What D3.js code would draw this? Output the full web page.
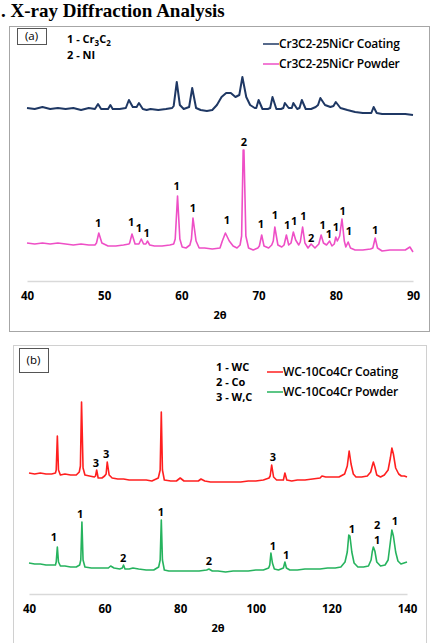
<!DOCTYPE html>
<html>
<head>
<meta charset="utf-8">
<script src="https://cdn.jsdelivr.net/npm/d3@7"></script>
<style>
  body { margin: 0; background: #fff; }
  svg { display: block; }
  .tick text { font-family: "Open Sans", sans-serif; font-weight: 700; font-size: 11.5px; fill: #000; }
</style>
</head>
<body>
<div id="chart"></div>
<script>
// panel (a): [2theta, intensity a.u.]
const coatingA = [
  [40,173],[41,172],[42,174],[43,172],[44,173],[45,172],[46,173],[47,171],[48,173],[48.8,172],
  [49.2,177],[49.6,172],[50.5,172],[50.8,176],[51.1,172],[52,172],[52.8,173],[53.2,181],[53.7,174],
  [54.2,174],[54.5,178],[55,172],[55.5,171],[56,172],[57,171],[58,172],[58.8,173],[59,175],[59.4,199],
  [59.8,176],[60.3,172],[61,174],[61.4,193],[61.9,173],[62.5,171],[63.3,170],[64,171],[64.6,176],
  [65.2,184],[65.8,188],[66.4,188],[67,184],[67.5,186],[67.9,204],[68.4,184],[68.9,176],[69.5,173],
  [69.7,173],[70,181],[70.5,172],[71.2,172],[71.5,173],[71.8,184],[72.3,172],[72.9,172],[73.2,173],
  [73.4,178],[73.9,173],[74.3,173],[74.5,178],[75,172],[75.3,173],[75.6,181],[76.1,172],[76.8,172],
  [77.4,174],[77.7,176],[78,183],[78.6,176],[79.3,174],[79.7,175],[80,179],[80.6,173],[81.5,171],
  [82.5,169],[83.5,168],[84.4,168],[84.6,168],[84.9,174],[85.3,168],[86,167],[87,167],[88,167],
  [89,167],[90,166]
];
const powderA = [
  [40,38],[41,37],[42,38],[43,37],[44,38],[45,37],[46,36],[47,37],[48,36],[48.8,36],[49,38],[49.3,48],
  [49.7,38],[50.5,35],[51.5,35],[52.5,36],[53.2,37],[53.3,38],[53.6,47],[54,37],[54.5,37],[54.8,42],
  [55.1,37],[55.4,37],[55.6,40],[55.9,36],[56.5,35],[57.5,35],[58.5,36],[59,37],[59.2,42],[59.5,85],
  [59.8,42],[60.1,34],[60.6,33],[61.1,36],[61.3,42],[61.5,63],[61.9,40],[62.3,33],[63,33],[64,32],
  [65,33],[65.3,40],[65.7,48],[66.2,40],[66.7,35],[67.2,33],[67.6,36],[67.8,45],[68,131],[68.1,131],
  [68.35,45],[68.7,33],[69.3,31],[69.9,33],[70.1,35],[70.4,46],[70.7,35],[71.3,33],[71.7,36],[71.9,40],
  [72.1,54],[72.5,36],[73,34],[73.3,36],[73.6,46],[73.9,36],[74.2,38],[74.5,49],[74.8,41],[75.2,36],
  [75.4,39],[75.7,54],[76,38],[76.4,33],[76.8,37],[77.3,33],[77.8,37],[78.1,46],[78.4,38],[78.8,36],
  [79.2,40],[79.5,35],[79.8,37],[80,44],[80.2,40],[80.5,45],[80.8,62],[81.1,40],[81.3,34],[81.6,39],
  [81.9,33],[82.5,31],[83.5,31],[84.5,32],[84.8,33],[85.1,43],[85.4,33],[86,30],[87,31],[88,31],
  [89,31],[89.6,34],[90,29]
];
const labelsA = [
  [49.2,58,"1"],[53.5,59,"1"],[54.5,53,"1"],[55.5,48,"1"],[59.4,95,"1"],[61.5,73,"1"],[65.9,61,"1"],
  [68.1,139,"2"],[70.3,57,"1"],[72.1,66,"1"],[73.7,56,"1"],[74.6,60,"1"],[75.8,65,"1"],[76.8,43,"2"],
  [78.3,56,"1"],[79.1,47,"1"],[80,54,"1"],[80.9,70,"1"],[81.7,50,"1"],[85.1,51,"1"]
];
const ticksA = [40, 50, 60, 70, 80, 90];

// panel (b)
const coatingB = [
  [40,121],[41.5,120],[43,121],[44.5,120],[46,120],[47,121],[47.2,124],[47.5,158],[47.8,124],[48.3,119],
  [49.5,120],[51,119],[52.5,119],[53.3,122],[53.6,128],[53.9,192],[54.3,126],[54.8,119],[56,118],
  [57.3,117],[57.6,118],[57.9,124],[58.3,116],[59.3,116],[60,118],[60.4,120],[60.7,132],[61.2,119],
  [62,116],[63.5,115],[65,115],[66.5,114],[68,114],[69.5,114],[71,114],[72.5,113],[74.2,116],[74.7,124],
  [75,182],[75.3,124],[75.8,114],[77.5,113],[79,113],[80,116],[81,113],[82.5,113],[84.8,113],[85.5,115],
  [86.5,113],[88,112],[90,112],[92,112],[94,112],[96,112],[98,113],[100,113],[102,114],[103.5,116],
  [103.8,118],[104.2,129],[104.7,117],[105.5,114],[107.3,114],[107.7,121],[108.2,114],[109.5,113],
  [111,114],[113,114],[115,115],[117,116],[117.5,118],[118.5,117],[120,117],[122,117],[123.5,120],
  [124.2,128],[124.7,143],[125.2,130],[125.8,120],[126.5,117],[128,117],[129.5,118],[130.4,122],
  [130.8,128],[131.1,132],[131.5,127],[132,119],[133,117],[134,119],[135,124],[135.6,136],[136,146],
  [136.4,140],[137,126],[137.8,120],[138.5,118],[139.3,118],[140,117]
];
const powderB = [
  [40,31],[41.5,30],[43,30],[44.5,29],[46,29],[47,29],[47.2,32],[47.5,47],[47.8,32],[48.3,28],[49.5,28],
  [51,27],[52.5,27],[53.4,29],[53.7,34],[54,72],[54.3,34],[54.8,27],[56.5,26],[58,26],[59.5,26],[61,26],
  [61.6,28],[62.5,26],[64,25],[64.7,26],[65,29],[65.4,25],[66.5,25],[67.5,26],[69,25],[71,24],[73,24],
  [74.3,27],[74.7,34],[75,74],[75.3,34],[75.8,24],[77,23],[79,23],[81,23],[83,23],[85,23],[87,24],
  [87.6,25],[88.5,23],[90,23],[92,22],[94,23],[96,23],[98,23],[100,24],[102,24],[103.4,26],[103.7,29],
  [104,41],[104.4,31],[104.9,25],[106,24],[107.3,26],[107.7,32],[108.1,26],[109,24],[111,24],[113,25],
  [115,25],[117,25],[119,26],[121,26],[122.5,27],[123.6,32],[124.2,42],[124.6,59],[124.9,58],[125.4,42],
  [126,31],[127,27],[128.5,27],[129.8,28],[130.5,34],[130.8,42],[131.1,47],[131.5,43],[132,32],[133,28],
  [134.2,29],[135,34],[135.6,52],[136,64],[136.4,58],[137,42],[137.6,33],[138.4,30],[139.2,31],[140,32]
];
const labelsB = [
  [57.7,131,"3"],[60.4,140,"3"],[104.5,137,"3"],
  [46.6,57,"1"],[53.5,80,"1"],[64.9,36,"2"],[74.9,82,"1"],[87.6,33,"2"],[104.5,48,"1"],[108,39,"1"],
  [125.4,65,"1"],[132.1,69,"2"],[132.1,54,"1"],[136.8,73,"1"]
];
const ticksB = [40, 60, 80, 100, 120, 140];

const W = 435, H = 643;
const svg = d3.select("#chart").append("svg").attr("width", W).attr("height", H);
svg.append("rect").attr("width", W).attr("height", H).attr("fill", "#fff");

svg.append("text")
  .attr("x", 1).attr("y", 17)
  .attr("font-family", "'Liberation Serif', 'Times New Roman', serif")
  .attr("font-weight", 700).attr("font-size", 19)
  .text(". X-ray Diffraction Analysis");

function panel(o) {
  const g = svg.append("g");
  g.append("rect")
    .attr("x", o.box[0] + 0.5).attr("y", o.box[1] + 0.5)
    .attr("width", o.box[2]).attr("height", o.box[3])
    .attr("fill", "#fff").attr("stroke", o.boxStroke);

  const x = d3.scaleLinear().domain(o.domain).range([o.x0, o.x1]);
  const y = d3.scaleLinear().domain([0, 250]).range([o.axisY, o.axisY - 250]);

  const axis = g.append("g")
    .attr("transform", `translate(0,${o.axisY})`)
    .call(d3.axisBottom(x).tickValues(o.ticks).tickSize(0).tickSizeOuter(0).tickPadding(11));
  axis.select(".domain").attr("stroke", "#d9d9d9").attr("stroke-width", 1.5);

  g.append("text")
    .attr("x", (o.x0 + o.x1) / 2).attr("y", o.axisY + 38)
    .attr("text-anchor", "middle")
    .attr("font-family", "'Open Sans', sans-serif").attr("font-weight", 700).attr("font-size", 11)
    .text("2θ");

  const line = d3.line().x((d) => x(d[0])).y((d) => y(d[1]));
  o.series.forEach((s) => {
    g.append("path").datum(s.data)
      .attr("fill", "none").attr("stroke", s.color).attr("stroke-width", s.width)
      .attr("stroke-linejoin", "round")
      .attr("d", line);
  });

  g.selectAll("text.peak")
    .data(o.labels)
    .join("text")
    .attr("class", "peak")
    .attr("x", (d) => x(d[0])).attr("y", (d) => y(d[1]))
    .attr("dy", "0.35em").attr("text-anchor", "middle")
    .attr("font-family", "'Open Sans', sans-serif").attr("font-weight", 700).attr("font-size", 11)
    .text((d) => d[2]);

  // (a)/(b) tag
  g.append("rect")
    .attr("x", o.tag[0] + 0.5).attr("y", o.tag[1] + 0.5)
    .attr("width", o.tag[2]).attr("height", o.tag[3])
    .attr("fill", "#fff").attr("stroke", "#555");
  g.append("text")
    .attr("x", o.tag[0] + o.tag[2] / 2).attr("y", o.tag[1] + o.tag[3] / 2)
    .attr("dy", "0.35em").attr("text-anchor", "middle")
    .attr("font-family", "'Open Sans', sans-serif").attr("font-size", 11.5)
    .text(o.tagText);

  // phase key
  o.phases.forEach((p, i) => {
    const t = g.append("text")
      .attr("x", o.phaseX).attr("y", o.phaseY + i * o.phaseStep)
      .attr("dy", "0.35em")
      .attr("font-family", "'Open Sans', sans-serif").attr("font-weight", 700).attr("font-size", o.phaseSize);
    p.forEach((part) => {
      const ts = t.append("tspan").text(part.t);
      if (part.sub) ts.attr("font-size", 8).attr("dy", 3);
      else if (part.up) ts.attr("dy", -3);
    });
  });

  // series legend
  o.series.forEach((s, i) => {
    const ly = o.legY + i * o.legStep;
    g.append("line")
      .attr("x1", o.legX).attr("x2", o.legX + 16).attr("y1", ly).attr("y2", ly)
      .attr("stroke", s.color).attr("stroke-width", 1.5);
    g.append("text")
      .attr("x", o.legX + 16).attr("y", ly).attr("dy", "0.35em")
      .attr("font-family", "'Open Sans', sans-serif").attr("font-weight", 600).attr("font-size", 12)
      .attr("letter-spacing", -0.2)
      .text(s.name);
  });
}

panel({
  box: [9, 26, 420, 305], boxStroke: "#a6a6a6",
  domain: [40, 90], x0: 27, x1: 413, axisY: 281, ticks: ticksA,
  series: [
    { name: "Cr3C2-25NiCr Coating", color: "#1f3864", width: 2, data: coatingA },
    { name: "Cr3C2-25NiCr Powder", color: "#ee4fc6", width: 1.6, data: powderA }
  ],
  labels: labelsA,
  tag: [17, 28, 29, 16], tagText: "(a)",
  phases: [
    [{ t: "1 - Cr" }, { t: "3", sub: true }, { t: "C", up: true }, { t: "2", sub: true }],
    [{ t: "2 - NI" }]
  ],
  phaseX: 67, phaseY: 39, phaseStep: 16, phaseSize: 11,
  legX: 263, legY: 44, legStep: 20
});

panel({
  box: [13, 345, 413, 305], boxStroke: "#d0d0d0",
  domain: [40, 140], x0: 29, x1: 407, axisY: 594, ticks: ticksB,
  series: [
    { name: "WC-10Co4Cr Coating", color: "#ff1f1f", width: 1.6, data: coatingB },
    { name: "WC-10Co4Cr Powder", color: "#26b35e", width: 1.6, data: powderB }
  ],
  labels: labelsB,
  tag: [19, 348, 29, 24], tagText: "(b)",
  phases: [[{ t: "1 - WC" }], [{ t: "2 - Co" }], [{ t: "3 - W,C" }]],
  phaseX: 216, phaseY: 367, phaseStep: 15, phaseSize: 11,
  legX: 267, legY: 372, legStep: 20
});
</script>
</body>
</html>
